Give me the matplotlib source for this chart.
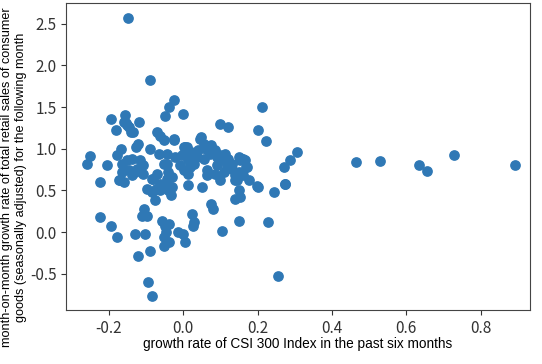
import matplotlib.pyplot as plt

# growth rate of CSI 300 (x) vs next-month retail sales growth (y)
csi_growth = [
    -0.149, -0.089, -0.024, -0.037, -0.050, -0.001, 0.213, -0.156, -0.194, -0.118,
    -0.153, -0.182, -0.145, -0.136, 0.099, 0.120, 0.202, 0.223, -0.071, -0.062,
    -0.053, -0.024, 0.048, -0.123, -0.126, -0.089, -0.168, -0.178, -0.250, -0.259,
    -0.205, 0.306, 0.288, 0.270, 0.003, 0.011, -0.026, 0.005, 0.046, 0.055,
    0.086, 0.113, 0.149, 0.167, -0.053, 0.001, 0.019, 0.064, 0.149, 0.162,
    -0.080, -0.062, -0.044, -0.030, 0.014, 0.050, 0.099, 0.144, 0.149, 0.153,
    -0.225, -0.169, -0.159, -0.084, -0.098, -0.084, -0.072, -0.062, -0.050, -0.041,
    -0.032, -0.075, -0.105, -0.111, -0.098, -0.225, -0.194, -0.178, -0.129, -0.102,
    -0.123, -0.089, -0.096, -0.084, -0.057, -0.048, -0.039, -0.045, -0.053, -0.039,
    -0.053, -0.013, -0.001, 0.005, 0.023, 0.030, 0.026, 0.074, 0.080, 0.104,
    0.140, 0.140, 0.151, 0.178, 0.200, 0.227, 0.245, 0.274, 0.256, 0.140,
    0.064, 0.014, 0.273, 0.198, 0.162, 0.169, 0.465, 0.530, 0.633, 0.656,
    0.728, 0.893, -0.160, -0.151, -0.140, -0.165, -0.138, -0.116, -0.107, -0.124,
    -0.147, -0.165, -0.138, -0.107, -0.174, -0.066, -0.044, -0.022, -0.003, 0.014,
    0.037, 0.055, 0.073, 0.091, 0.108, 0.131, 0.153, -0.044, -0.008, 0.028,
    0.091, 0.117, 0.060, 0.075, 0.100, 0.120, 0.157, 0.171, -0.130, -0.120,
    -0.070, -0.040, -0.030, -0.151, 0.020, 0.040, 0.085, 0.110, 0.130,
]
retail_growth = [
    2.57, 1.83, 1.58, 1.50, 1.39, 1.42, 1.50, 1.41, 1.36, 1.32,
    1.31, 1.23, 1.26, 1.20, 1.30, 1.26, 1.22, 1.09, 1.20, 1.15,
    1.10, 1.11, 1.14, 1.06, 1.02, 1.00, 1.00, 0.92, 0.91, 0.82,
    0.80, 0.96, 0.86, 0.78, 1.02, 1.02, 1.12, 1.02, 1.12, 1.06,
    0.98, 0.94, 0.90, 0.86, 0.82, 0.74, 0.78, 0.74, 0.72, 0.68,
    0.64, 0.58, 0.64, 0.54, 0.56, 0.54, 0.62, 0.62, 0.50, 0.42,
    0.60, 0.62, 0.60, 0.64, 0.52, 0.48, 0.52, 0.50, 0.54, 0.50,
    0.44, 0.38, 0.28, 0.20, 0.20, 0.18, 0.07, -0.06, -0.02, -0.02,
    -0.28, -0.22, -0.60, -0.77, 0.14, 0.08, 0.10, 0.00, -0.06, -0.12,
    -0.16, 0.00, -0.02, -0.12, 0.22, 0.12, 0.07, 0.34, 0.28, 0.01,
    0.62, 0.40, 0.14, 0.62, 0.54, 0.12, 0.48, 0.58, -0.53, 0.68,
    0.68, 0.70, 0.58, 0.55, 0.88, 0.78, 0.84, 0.85, 0.80, 0.73,
    0.92, 0.80, 1.32, 1.28, 1.20, 0.82, 0.88, 0.86, 0.80, 0.76,
    0.74, 0.72, 0.68, 0.70, 0.62, 0.94, 0.94, 0.90, 0.92, 0.86,
    0.90, 0.88, 0.94, 0.90, 0.86, 0.82, 0.86, 0.82, 0.80, 0.82,
    0.80, 0.78, 1.00, 1.04, 0.93, 0.88, 0.88, 0.78, 0.72, 0.74,
    0.70, 0.72, 0.66, 0.86, 0.96, 0.98, 0.70, 0.72, 0.76,
]

plt.rcParams['font.family'] = ['Liberation Sans', 'DejaVu Sans']
plt.rcParams['axes.unicode_minus'] = False

fig = plt.figure(figsize=(5.42, 3.64), dpi=100)
ax = fig.add_axes([0.122, 0.148, 0.856, 0.844])
ax.scatter(csi_growth, retail_growth, s=45, color='#2f78b5')

ax.set_xlim(-0.315, 0.933)
ax.set_ylim(-0.935, 2.75)
ax.set_xticks([-0.2, 0.0, 0.2, 0.4, 0.6, 0.8])
ax.set_yticks([-0.5, 0.0, 0.5, 1.0, 1.5, 2.0, 2.5])
ax.tick_params(labelsize=11, colors='#333333')
for lab in ax.get_xticklabels() + ax.get_yticklabels():
    lab.set_family(['Noto Sans CJK SC', 'DejaVu Sans'])
for sp in ax.spines.values():
    sp.set_color('#444444')

ax.set_xlabel("growth rate of CSI 300 Index in the past six months", fontsize=9.8, labelpad=0)
ax.set_ylabel("month-on-month growth rate of total retail sales of consumer\n"
              "goods (seasonally adjusted) for the following month", fontsize=9.1)
ax.yaxis.set_label_coords(-0.084, 0.433)

plt.savefig("out.png", dpi=100)
